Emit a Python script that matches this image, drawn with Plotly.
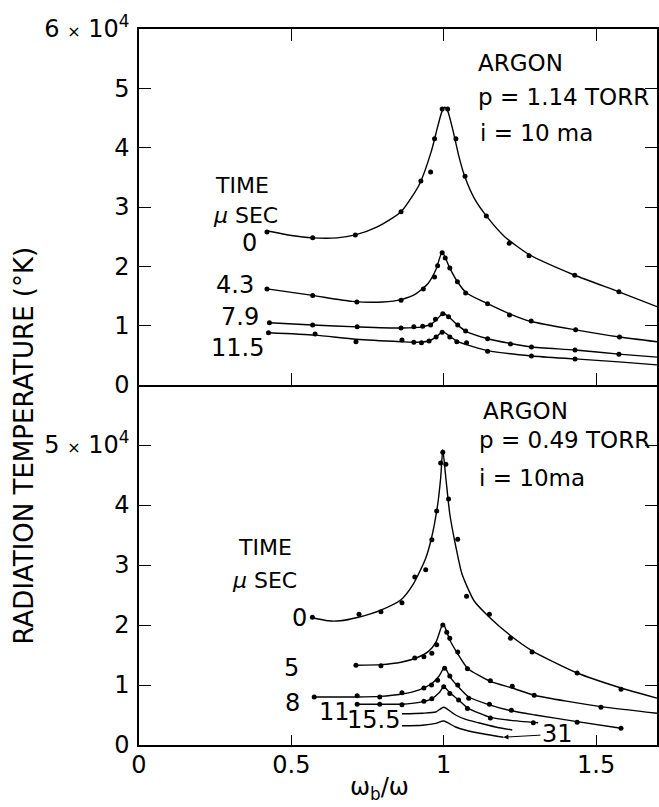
import plotly.graph_objects as go
from plotly.subplots import make_subplots

# ---------------- data (x = omega_b/omega, y = radiation temperature / 1e4 K) -------------
# Upper panel: ARGON p = 1.14 torr
top_labels = ["0", "4.3", "7.9", "11.5"]
t0_dx = [0.42, 0.57, 0.71, 0.86, 0.925, 0.957, 0.97, 0.995, 1.013, 1.04, 1.07, 1.14, 1.215, 1.28, 1.43, 1.575]
t0_dy = [2.58, 2.48, 2.53, 2.92, 3.44, 3.59, 4.15, 4.65, 4.65, 4.15, 3.52, 2.85, 2.39, 2.18, 1.85, 1.57]
t0_cx = [0.42, 0.5, 0.57, 0.65, 0.71, 0.78, 0.86, 0.92, 0.96, 0.98, 0.995, 1.004, 1.013, 1.03, 1.05, 1.07, 1.1, 1.14, 1.2, 1.28, 1.43, 1.575, 1.70]
t0_cy = [2.6, 2.52, 2.48, 2.48, 2.53, 2.66, 2.92, 3.38, 3.95, 4.35, 4.62, 4.68, 4.62, 4.3, 3.85, 3.5, 3.15, 2.85, 2.5, 2.2, 1.85, 1.57, 1.32]

t43_dx = [0.42, 0.57, 0.715, 0.86, 0.933, 0.97, 0.98, 0.995, 1.005, 1.02, 1.045, 1.072, 1.144, 1.216, 1.287, 1.433, 1.577]
t43_dy = [1.62, 1.51, 1.40, 1.43, 1.62, 1.82, 2.01, 2.23, 2.14, 1.97, 1.74, 1.55, 1.37, 1.18, 1.08, 0.93, 0.81]
t43_cx = [0.42, 0.57, 0.7, 0.8, 0.86, 0.91, 0.95, 0.975, 0.995, 1.02, 1.045, 1.075, 1.144, 1.216, 1.287, 1.433, 1.577, 1.70]
t43_cy = [1.62, 1.51, 1.41, 1.40, 1.44, 1.54, 1.72, 1.95, 2.24, 1.97, 1.74, 1.55, 1.37, 1.2, 1.07, 0.93, 0.81, 0.73]

t79_dx = [0.428, 0.57, 0.716, 0.86, 0.902, 0.931, 0.957, 0.973, 0.997, 1.016, 1.046, 1.072, 1.144, 1.219, 1.288, 1.431, 1.575]
t79_dy = [1.05, 1.01, 0.98, 0.96, 0.98, 0.99, 1.01, 1.11, 1.20, 1.15, 1.01, 0.91, 0.78, 0.69, 0.64, 0.59, 0.52]
t79_cx = [0.428, 0.57, 0.716, 0.86, 0.93, 0.96, 0.98, 0.998, 1.016, 1.046, 1.072, 1.144, 1.219, 1.288, 1.431, 1.575, 1.70]
t79_cy = [1.05, 1.01, 0.98, 0.96, 0.98, 1.03, 1.12, 1.21, 1.15, 1.01, 0.91, 0.78, 0.70, 0.64, 0.59, 0.52, 0.47]

t115_dx = [0.425, 0.578, 0.712, 0.863, 0.902, 0.927, 0.952, 0.975, 0.995, 1.02, 1.043, 1.075, 1.144, 1.288, 1.431]
t115_dy = [0.88, 0.86, 0.73, 0.76, 0.72, 0.71, 0.74, 0.81, 0.89, 0.81, 0.73, 0.71, 0.57, 0.49, 0.44]
t115_cx = [0.425, 0.578, 0.712, 0.86, 0.92, 0.955, 0.978, 0.997, 1.02, 1.043, 1.075, 1.144, 1.288, 1.431, 1.575, 1.70]
t115_cy = [0.88, 0.84, 0.77, 0.73, 0.72, 0.75, 0.82, 0.90, 0.82, 0.74, 0.68, 0.58, 0.49, 0.44, 0.39, 0.34]

# Lower panel: ARGON p = 0.49 torr
bot_labels = ["0", "5", "8", "11", "15.5", "31"]
b0_dx = [0.569, 0.722, 0.794, 0.863, 0.905, 0.941, 0.961, 0.977, 0.99, 0.997, 1.007, 1.016, 1.046, 1.075, 1.15, 1.219, 1.29, 1.438, 1.582]
b0_dy = [2.13, 2.18, 2.22, 2.37, 2.8, 2.92, 3.42, 3.9, 4.7, 4.88, 4.68, 4.1, 3.43, 2.48, 2.18, 1.78, 1.55, 1.2, 0.93]
b0_cx = [0.569, 0.62, 0.66, 0.72, 0.79, 0.86, 0.9, 0.94, 0.96, 0.98, 0.99, 0.997, 1.007, 1.02, 1.04, 1.06, 1.1, 1.15, 1.22, 1.29, 1.438, 1.582, 1.70]
b0_cy = [2.12, 2.07, 2.07, 2.13, 2.24, 2.42, 2.68, 3.1, 3.45, 4.0, 4.45, 4.92, 4.45, 3.85, 3.3, 2.85, 2.4, 2.13, 1.82, 1.57, 1.2, 0.95, 0.78]

b5_dx = [0.712, 0.794, 0.905, 0.935, 0.961, 0.977, 0.997, 1.01, 1.02, 1.046, 1.078, 1.153, 1.225, 1.297, 1.516]
b5_dy = [1.33, 1.32, 1.45, 1.47, 1.53, 1.67, 2.0, 1.88, 1.78, 1.55, 1.27, 1.07, 0.98, 0.83, 0.63]
b5_cx = [0.712, 0.794, 0.86, 0.91, 0.95, 0.975, 0.998, 1.02, 1.046, 1.078, 1.153, 1.225, 1.297, 1.516, 1.70]
b5_cy = [1.33, 1.34, 1.38, 1.45, 1.56, 1.72, 2.02, 1.75, 1.52, 1.28, 1.06, 0.95, 0.83, 0.64, 0.53]

b8_dx = [0.575, 0.716, 0.79, 0.863, 0.935, 0.96, 0.98, 1.003, 1.02, 1.046, 1.082, 1.15, 1.222, 1.438, 1.582]
b8_dy = [0.80, 0.82, 0.80, 0.87, 0.95, 1.0, 1.08, 1.28, 1.15, 1.0, 0.78, 0.68, 0.58, 0.38, 0.28]
b8_cx = [0.575, 0.716, 0.79, 0.863, 0.92, 0.96, 0.985, 1.003, 1.02, 1.046, 1.082, 1.15, 1.222, 1.3, 1.438, 1.582]
b8_cy = [0.80, 0.80, 0.81, 0.85, 0.92, 1.02, 1.15, 1.30, 1.14, 0.98, 0.80, 0.67, 0.57, 0.50, 0.39, 0.28]

b11_dx = [0.716, 0.79, 0.863, 0.935, 0.961, 1.0, 1.02, 1.049, 1.078, 1.153, 1.294]
b11_dy = [0.68, 0.68, 0.67, 0.73, 0.77, 0.97, 0.86, 0.75, 0.61, 0.45, 0.37]
b11_cx = [0.716, 0.79, 0.863, 0.92, 0.96, 0.985, 1.0, 1.02, 1.049, 1.078, 1.153, 1.22, 1.31]
b11_cy = [0.68, 0.68, 0.68, 0.71, 0.77, 0.87, 0.97, 0.87, 0.75, 0.62, 0.46, 0.41, 0.37]

b155_cx = [0.863, 0.93, 0.974, 1.0, 1.039, 1.07, 1.114, 1.17, 1.225]
b155_cy = [0.52, 0.53, 0.55, 0.63, 0.50, 0.43, 0.37, 0.30, 0.25]

b31_cx = [0.863, 0.93, 0.974, 1.0, 1.039, 1.07, 1.114, 1.196]
b31_cy = [0.32, 0.33, 0.36, 0.40, 0.30, 0.25, 0.20, 0.13]

x_ticks = [0, 0.5, 1, 1.5]
x_ticktext = ["0", "0.5", "1", "1.5"]
top_yticks = [0, 1, 2, 3, 4, 5, 6]
top_yticktext = ["0", "1", "2", "3", "4", "5", "6 <span style='font-size:16px'>×</span> 10<sup>4</sup>"]
bot_yticks = [0, 1, 2, 3, 4, 5]
bot_yticktext = ["0", "1", "2", "3", "4", "5 <span style='font-size:16px'>×</span> 10<sup>4</sup>"]

# ---------------- figure -------------
FONT = "DejaVu Sans"
W, H = 659, 807
ML, MR, MT, MB = 139, 0, 29, 62
plot_h = H - MT - MB
split = 360 / plot_h

fig = make_subplots(rows=2, cols=1, vertical_spacing=0)

def curve(cx, cy, row):
    fig.add_trace(go.Scatter(x=cx, y=cy, mode="lines", line=dict(color="black", width=1.4, shape="spline", smoothing=0.6),
                             hoverinfo="skip", showlegend=False), row=row, col=1)

def dots(dx, dy, row):
    fig.add_trace(go.Scatter(x=dx, y=dy, mode="markers", marker=dict(color="black", size=5),
                             showlegend=False), row=row, col=1)

for cx, cy in [(t0_cx, t0_cy), (t43_cx, t43_cy), (t79_cx, t79_cy), (t115_cx, t115_cy)]:
    curve(cx, cy, 1)
for dx, dy in [(t0_dx, t0_dy), (t43_dx, t43_dy), (t79_dx, t79_dy), (t115_dx, t115_dy)]:
    dots(dx, dy, 1)
for cx, cy in [(b0_cx, b0_cy), (b5_cx, b5_cy), (b8_cx, b8_cy), (b11_cx, b11_cy), (b155_cx, b155_cy), (b31_cx, b31_cy)]:
    curve(cx, cy, 2)
for dx, dy in [(b0_dx, b0_dy), (b5_dx, b5_dy), (b8_dx, b8_dy), (b11_dx, b11_dy)]:
    dots(dx, dy, 2)

axis_common = dict(showline=True, linecolor="black", linewidth=1.5, showgrid=False, zeroline=False,
                   ticks="inside", ticklen=12, tickwidth=1.2, tickcolor="black",
                   tickfont=dict(family=FONT, size=24, color="black"))

fig.update_xaxes(range=[0, 1.70], tickvals=x_ticks, ticktext=x_ticktext, **axis_common)
fig.update_xaxes(row=1, col=1, showticklabels=False, mirror="ticks", tickvals=[0.5, 1, 1.5])
fig.update_xaxes(row=2, col=1, mirror=False, ticklen=10, ticklabelstandoff=-3)
fig.update_yaxes(range=[0, 6], mirror="ticks", ticklabelstandoff=3, **axis_common)
fig.update_yaxes(row=1, col=1, tickvals=top_yticks, ticktext=top_yticktext)
fig.update_yaxes(row=2, col=1, tickvals=bot_yticks, ticktext=bot_yticktext)

fig.layout.yaxis.domain = [split, 1]
fig.layout.yaxis2.domain = [0, split]

def ann(text, x, y, row, xanchor="center", size=23):
    fig.add_annotation(text=text, x=x, y=y, xref="x" if row == 1 else "x2", yref="y" if row == 1 else "y2",
                       showarrow=False, xanchor=xanchor, yanchor="middle",
                       font=dict(family=FONT, size=size, color="black"))

# upper panel labels
ann("ARGON", 1.105, 5.43, 1, "left")
ann("p = 1.14 TORR", 1.105, 4.86, 1, "left")
ann("i = 10 ma", 1.114, 4.25, 1, "left")
ann("TIME", 0.337, 3.37, 1, size=22)
ann("<i>μ</i> SEC", 0.35, 2.85, 1, size=22)
for lab, x, y in zip(top_labels, [0.363, 0.314, 0.333, 0.324], [2.39, 1.69, 1.15, 0.62]):
    ann(lab, x, y, 1, size=24)

# lower panel labels
ann("ARGON", 1.121, 5.57, 2, "left")
ann("p = 0.49 TORR", 1.108, 5.08, 2, "left")
ann("i = 10ma", 1.108, 4.45, 2, "left")
ann("TIME", 0.412, 3.3, 2, size=22)
ann("<i>μ</i> SEC", 0.412, 2.75, 2, size=22)
for lab, x, y in zip(bot_labels[:5], [0.526, 0.50, 0.503, 0.64, 0.771], [2.12, 1.28, 0.70, 0.55, 0.42]):
    ann(lab, x, y, 2, size=24)
fig.add_annotation(text=bot_labels[5], x=b31_cx[-1], y=b31_cy[-1], xref="x2", yref="y2",
                   showarrow=True, arrowhead=2, arrowsize=1, arrowwidth=1, arrowcolor="black",
                   ax=54, ay=-3, font=dict(family=FONT, size=24, color="black"))

# axis titles
fig.add_annotation(text="RADIATION TEMPERATURE (°K)", xref="paper", yref="paper",
                   x=(24 - ML) / (W - ML - MR), y=(745 - 445) / plot_h, textangle=-90,
                   showarrow=False, xanchor="center", yanchor="middle",
                   font=dict(family=FONT, size=26, color="black"))
fig.add_annotation(text="ω<sub>b</sub>/ω", xref="paper", yref="paper",
                   x=(380 - ML) / (W - ML - MR), y=(745 - 788) / plot_h,
                   showarrow=False, xanchor="center", yanchor="middle",
                   font=dict(family=FONT, size=24, color="black"))

fig.update_layout(width=W, height=H, margin=dict(l=ML, r=MR, t=MT, b=MB),
                  paper_bgcolor="white", plot_bgcolor="white", showlegend=False)

fig.write_html("out.html")
